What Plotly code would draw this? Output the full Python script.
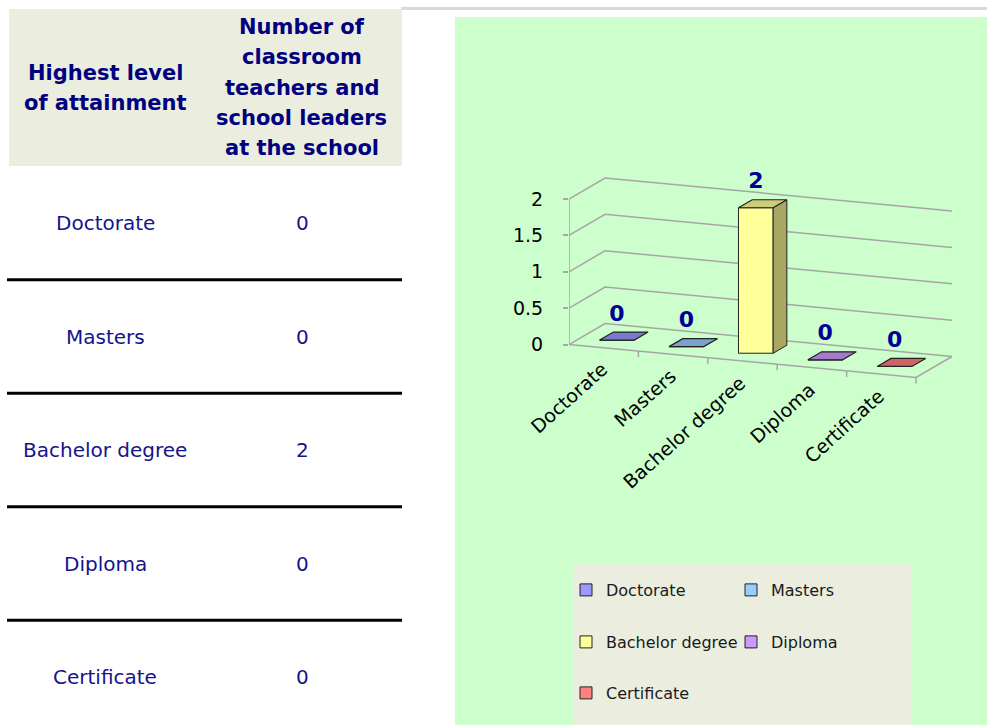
import plotly.graph_objects as go

# ---------------- data ----------------
categories = ["Doctorate", "Masters", "Bachelor degree", "Diploma", "Certificate"]
values = [0, 0, 2, 0, 0]
colors = ["#9999FF", "#99CCFF", "#FFFF99", "#CC99FF", "#FF8080"]
y_ticks = [0, 0.5, 1, 1.5, 2]
header_left = ["Highest level", "of attainment"]
header_right = ["Number of", "classroom", "teachers and", "school leaders", "at the school"]

# ---------------- geometry / style ----------------
W, H = 987, 725
X0_PX, Y0_PX = 569, 344.5        # front-left floor corner
CAT_PX, VAL_PX = 69.4, 72.75     # px per category / per value unit
SLOPE_PX = 6.6                   # floor drop per category
DEPTH_X_PX, DEPTH_Y_PX = 36, 21  # depth vector
S = SLOPE_PX / VAL_PX
DX = DEPTH_X_PX / CAT_PX
DY = DEPTH_Y_PX / VAL_PX
D0, D1 = 0.37, 0.75
BAR_W = 0.5
N = len(categories)
GRID = "#A6A6A6"
EDGE = "#222222"
NAVY = "#000080"
FONT = "DejaVu Sans"


def px(x):
    return x / W


def py(y):
    return 1 - y / H


def proj(c, d, v):
    return c + d * DX, v - c * S + d * DY


def shade(hx, f):
    hx = hx.lstrip("#")
    r, g, b = (int(hx[i:i + 2], 16) for i in (0, 2, 4))
    return "#%02x%02x%02x" % (int(r * f), int(g * f), int(b * f))


x_range = [0, (W - X0_PX) / CAT_PX]
y_range = [-(H - Y0_PX) / VAL_PX, Y0_PX / VAL_PX]

fig = go.Figure()
shapes = []
annotations = []

# ---------------- backgrounds ----------------
shapes.append(dict(type="rect", xref="paper", yref="paper", x0=px(455), x1=1, y0=0, y1=py(17),
                   fillcolor="#CCFFCC", line=dict(width=0), layer="below"))
shapes.append(dict(type="rect", xref="paper", yref="paper", x0=px(401), x1=1, y0=py(10), y1=py(7),
                   fillcolor="#D9D9D9", line=dict(width=0), layer="below"))
shapes.append(dict(type="rect", xref="paper", yref="paper", x0=px(9), x1=px(402), y0=py(166), y1=py(9),
                   fillcolor="#EBEEDE", line=dict(width=0), layer="below"))
shapes.append(dict(type="rect", xref="paper", yref="paper", x0=px(573), x1=px(912), y0=0, y1=py(563),
                   fillcolor="#EBEEDE", line=dict(width=0), layer="below"))

# ---------------- table ----------------
ROW0, ROW_H = 223, 113.5
for i, (cat, val) in enumerate(zip(categories, values)):
    yc = ROW0 + ROW_H * i
    annotations.append(dict(x=px(105), y=py(yc), xref="paper", yref="paper", text=cat, showarrow=False,
                            xanchor="center", yanchor="middle",
                            font=dict(family=FONT, size=20, color="#14148C")))
    annotations.append(dict(x=px(302), y=py(yc), xref="paper", yref="paper", text=str(val), showarrow=False,
                            xanchor="center", yanchor="middle",
                            font=dict(family=FONT, size=20, color="#14148C")))
    if i < N - 1:
        yl = yc + ROW_H / 2
        shapes.append(dict(type="line", xref="paper", yref="paper", x0=px(7), x1=px(402), y0=py(yl), y1=py(yl),
                           line=dict(color="black", width=3)))

for k, t in enumerate(header_left):
    annotations.append(dict(x=px(105), y=py(72.7 + 30.4 * k), xref="paper", yref="paper", text=t,
                            showarrow=False, xanchor="center", yanchor="middle",
                            font=dict(family=FONT, size=21, color=NAVY, weight="bold")))
for k, t in enumerate(header_right):
    annotations.append(dict(x=px(301.5), y=py(26.7 + 30.4 * k), xref="paper", yref="paper", text=t,
                            showarrow=False, xanchor="center", yanchor="middle",
                            font=dict(family=FONT, size=21, color=NAVY, weight="bold")))

# ---------------- 3D frame (walls, floor, gridlines) ----------------
def path(points):
    return "M" + " L".join("%.5f,%.5f" % p for p in points)

for v in y_ticks:
    shapes.append(dict(type="path", xref="x", yref="y", layer="below",
                       path=path([proj(0, 0, v), proj(0, 1, v), proj(N, 1, v)]),
                       line=dict(color=GRID, width=1.5)))
shapes.append(dict(type="path", xref="x", yref="y", layer="below",
                   path=path([proj(0, 0, 0), proj(0, 0, max(y_ticks))]),
                   line=dict(color=GRID, width=1.5)))
shapes.append(dict(type="path", xref="x", yref="y", layer="below",
                   path=path([proj(0, 0, 0), proj(N, 0, 0), proj(N, 1, 0)]),
                   line=dict(color=GRID, width=1.5)))
for k in range(1, N + 1):
    x_, y_ = proj(k, 0, 0)
    shapes.append(dict(type="line", xref="x", yref="y", layer="below",
                       x0=x_, x1=x_, y0=y_, y1=y_ - 6 / VAL_PX,
                       line=dict(color=GRID, width=1.5)))

# ---------------- bars ----------------
legend_ids = ["legend", "legend", "legend2", "legend2", "legend3"]
dd = D1 - D0
for i, (cat, v, col) in enumerate(zip(categories, values, colors)):
    xc, base = proj(i + 0.5, D0, 0)
    fig.add_trace(go.Bar(x=[xc], y=[v], base=[base], width=BAR_W, name=cat,
                         marker=dict(color=col, line=dict(color=EDGE, width=1)),
                         legend=legend_ids[i], hoverinfo="name+y"))
    xl, xr = xc - BAR_W / 2, xc + BAR_W / 2
    top = base + v
    ox, oy = dd * DX, dd * DY
    if v > 0:
        side = [(xr, base), (xr + ox, base + oy), (xr + ox, top + oy), (xr, top), (xr, base)]
        fig.add_trace(go.Scatter(x=[p[0] for p in side], y=[p[1] for p in side], mode="lines",
                                 fill="toself", fillcolor=shade(col, 0.66),
                                 line=dict(color=EDGE, width=1), showlegend=False, hoverinfo="skip"))
    topf = [(xl, top), (xr, top), (xr + ox, top + oy), (xl + ox, top + oy), (xl, top)]
    fig.add_trace(go.Scatter(x=[p[0] for p in topf], y=[p[1] for p in topf], mode="lines",
                             fill="toself", fillcolor=shade(col, 0.8),
                             line=dict(color=EDGE, width=1.2), showlegend=False, hoverinfo="skip"))

# data labels
lab_x, lab_y = [], []
for i, v in enumerate(values):
    xc, base = proj(i + 0.5, D0, 0)
    lab_x.append(xc)
    lab_y.append(base + v + 25 / VAL_PX)
fig.add_trace(go.Scatter(x=lab_x, y=lab_y, mode="text", text=[str(v) for v in values],
                         textposition="middle center",
                         textfont=dict(family=FONT, size=22, color="#000099", weight="bold"),
                         showlegend=False, hoverinfo="skip"))

# category labels
for i, cat in enumerate(categories):
    xc, yc = proj(i + 0.5, 0, 0)
    annotations.append(dict(x=xc, y=yc, xref="x", yref="y", text=cat, showarrow=False,
                            textangle=-42, xanchor="right", yanchor="top", xshift=10, yshift=-8,
                            font=dict(family=FONT, size=19, color="black")))

leg_common = dict(orientation="h", xanchor="left", yanchor="middle", bgcolor="rgba(0,0,0,0)",
                  font=dict(family=FONT, size=16, color="#1a1a1a"), itemwidth=30,
                  entrywidth=120, entrywidthmode="pixels")

fig.update_layout(
    width=W, height=H, margin=dict(l=0, r=0, t=0, b=0),
    paper_bgcolor="white", plot_bgcolor="rgba(0,0,0,0)",
    barmode="overlay",
    xaxis=dict(domain=[X0_PX / W, 1], range=x_range, visible=False, fixedrange=True),
    yaxis=dict(domain=[0, 1], range=y_range, tickvals=y_ticks, ticktext=[("%g" % t) for t in y_ticks],
               showgrid=False, zeroline=False, showline=False, ticks="outside", ticklen=5,
               tickcolor=GRID, tickwidth=1.5, ticklabelstandoff=16,
               tickfont=dict(family=FONT, size=19, color="black"), fixedrange=True),
    legend=dict(x=px(566), y=py(590), **leg_common),
    legend2=dict(x=px(566), y=py(642), **leg_common),
    legend3=dict(x=px(566), y=py(693), **leg_common),
    shapes=shapes,
    annotations=annotations,
)

fig.write_html("out.html", config={"displayModeBar": False},
               post_script="document.body.style.margin='0px';document.body.style.overflow='hidden';")
